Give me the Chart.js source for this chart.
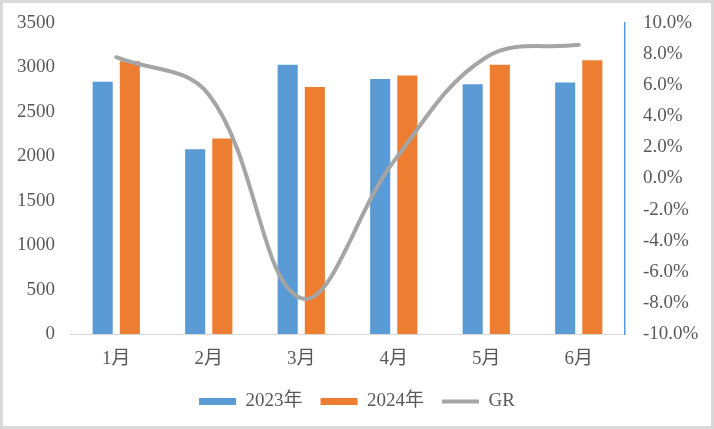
<!DOCTYPE html>
<html>
<head>
<meta charset="utf-8">
<script src="https://cdn.jsdelivr.net/npm/chart.js@4/dist/chart.umd.min.js"></script>
<style>
html,body{margin:0;padding:0;background:#fff;}
#wrap{width:714px;height:429px;position:relative;}
</style>
</head>
<body>
<div id="wrap"><canvas id="c" width="714" height="429"></canvas></div>
<script>
const categories = ['1月', '2月', '3月', '4月', '5月', '6月'];
const sales2023 = [2840, 2080, 3030, 2870, 2810, 2830];
const sales2024 = [3070, 2200, 2780, 2910, 3030, 3080];
const growthRate = [7.8, 5.4, -7.7, 1.1, 7.8, 8.6];
const leftTicks = [0, 500, 1000, 1500, 2000, 2500, 3000, 3500];
const rightTicks = [-10, -8, -6, -4, -2, 0, 2, 4, 6, 8, 10];

const FONT = "'Liberation Serif', 'Noto Sans CJK SC', serif";
const TXT = '#595959';
const FS = 19;

const frame = {
  id: 'frame',
  beforeDraw(chart) {
    const ctx = chart.ctx;
    ctx.save();
    ctx.fillStyle = '#ffffff';
    ctx.fillRect(0, 0, chart.width, chart.height);
    ctx.strokeStyle = '#d9d9d9';
    ctx.lineWidth = 3;
    ctx.strokeRect(1.5, 1.5, chart.width - 3, chart.height - 3);
    ctx.restore();
  }
};

new Chart(document.getElementById('c'), {
  data: {
    labels: categories,
    datasets: [
      {
        type: 'line', label: 'GR', data: growthRate, yAxisID: 'y2',
        borderColor: '#A5A5A5', backgroundColor: '#A5A5A5', borderWidth: 4,
        pointRadius: 0, pointStyle: 'line', tension: 0.38, order: 0,
        borderCapStyle: 'round'
      },
      {
        type: 'bar', label: '2023年', data: sales2023, yAxisID: 'y',
        backgroundColor: '#5B9BD5', borderWidth: 0, pointStyle: 'rect',
        categoryPercentage: 0.587, barPercentage: 0.74, order: 1
      },
      {
        type: 'bar', label: '2024年', data: sales2024, yAxisID: 'y',
        backgroundColor: '#ED7D31', borderWidth: 0, pointStyle: 'rect',
        categoryPercentage: 0.587, barPercentage: 0.74, order: 1
      }
    ]
  },
  options: {
    responsive: false,
    animation: false,
    layout: { padding: { top: 23, left: 0, right: 0, bottom: 8 } },
    plugins: {
      tooltip: { enabled: false },
      legend: {
        position: 'bottom',
        labels: {
          usePointStyle: true,
          pointStyleWidth: 37,
          boxWidth: 37,
          boxHeight: 7,
          padding: 18,
          color: TXT,
          font: { family: FONT, size: FS },
          sort: (a, b) => (a.text === 'GR') - (b.text === 'GR')
        }
      }
    },
    scales: {
      x: {
        grid: { display: false, drawTicks: false },
        border: { display: true, color: '#d9d9d9', width: 1 },
        ticks: { color: TXT, font: { family: FONT, size: FS }, padding: 14 },
        afterFit(s) { s.height = 40; }
      },
      y: {
        position: 'left',
        min: 0, max: 3500,
        grid: { display: false, drawTicks: false },
        border: { display: false },
        afterBuildTicks(s) { s.ticks = leftTicks.map(v => ({ value: v })); },
        ticks: {
          color: TXT, font: { family: FONT, size: FS }, padding: 15,
          callback: v => String(v)
        },
        afterFit(s) { s.width = 70; s.paddingTop = 0; s.paddingBottom = 0; }
      },
      y2: {
        position: 'right',
        min: -10, max: 10,
        grid: { display: false, drawTicks: false },
        border: { display: true, color: '#5B9BD5', width: 1.5 },
        afterBuildTicks(s) { s.ticks = rightTicks.map(v => ({ value: v })); },
        ticks: {
          color: TXT, font: { family: FONT, size: FS }, padding: 18,
          callback: v => v.toFixed(1) + '%'
        },
        afterFit(s) { s.width = 89; s.paddingTop = 0; s.paddingBottom = 0; }
      }
    }
  },
  plugins: [frame]
});
</script>
</body>
</html>
